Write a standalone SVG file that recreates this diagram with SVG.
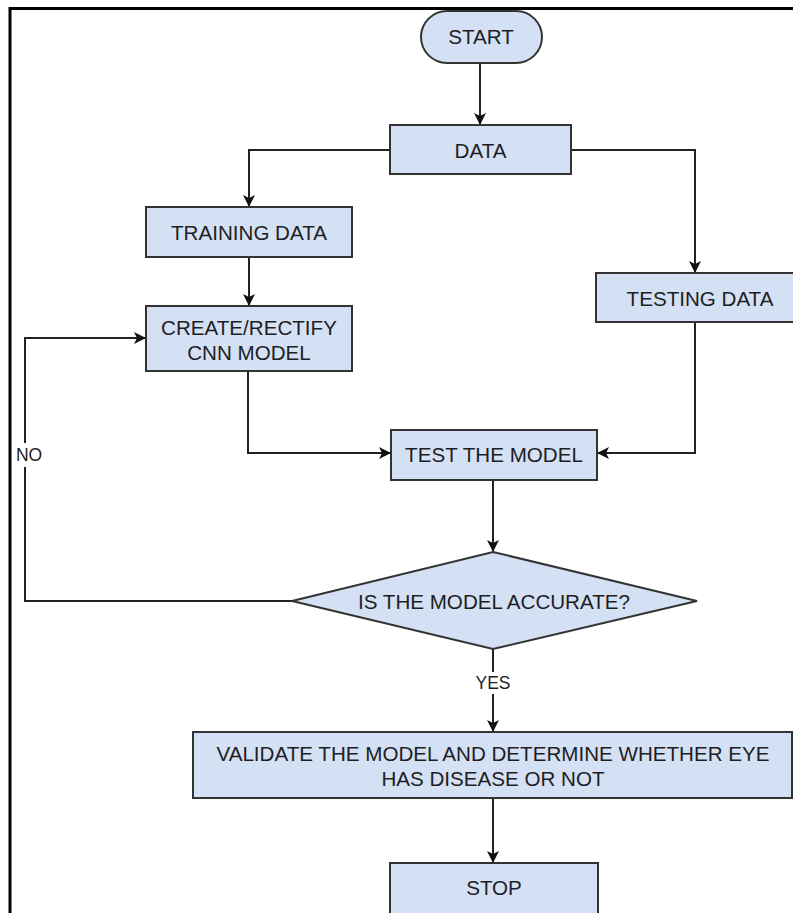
<svg xmlns="http://www.w3.org/2000/svg" width="793" height="913" viewBox="0 0 793 913">
  <style>
    .box { fill: #d4e0f3; stroke: #333; stroke-width: 2; }
    .lbl { font-family: "Liberation Sans", Arial, sans-serif; font-size: 20.6px; fill: #1e1e24; text-anchor: middle; dominant-baseline: central; }
    .edge { fill: none; stroke: #222; stroke-width: 2; }
    .elbl { font-family: "Liberation Sans", Arial, sans-serif; font-size: 17.5px; fill: #1e1e24; text-anchor: middle; dominant-baseline: central; }
  </style>
  <defs>
    <marker id="arr" viewBox="0 0 12 12" refX="11" refY="6" markerWidth="12" markerHeight="12" markerUnits="userSpaceOnUse" orient="auto">
      <path d="M0,0 L12,6 L0,12 L3,6 Z" fill="#111"/>
    </marker>
  </defs>
  <rect x="0" y="0" width="793" height="913" fill="#fff"/>
  <!-- frame -->
  <path d="M10,913 V8.5 H793" fill="none" stroke="#000" stroke-width="3"/>

  <g id="connectors">
    <path class="edge" d="M480,63 V124" marker-end="url(#arr)"/>
    <path class="edge" d="M390,150 H249 V206" marker-end="url(#arr)"/>
    <path class="edge" d="M571,150 H695 V272" marker-end="url(#arr)"/>
    <path class="edge" d="M249,257 V305" marker-end="url(#arr)"/>
    <path class="edge" d="M248,371 V453 H390" marker-end="url(#arr)"/>
    <path class="edge" d="M695,322 V453 H598" marker-end="url(#arr)"/>
    <path class="edge" d="M493,480 V551" marker-end="url(#arr)"/>
    <path class="edge" d="M292,601 H25 V338 H145" marker-end="url(#arr)"/>
    <path class="edge" d="M493,649 V731" marker-end="url(#arr)"/>
    <path class="edge" d="M493,798 V862" marker-end="url(#arr)"/>
    <rect x="13" y="443" width="32" height="24" fill="#fff"/>
    <text class="elbl" x="29" y="455">NO</text>
    <rect x="474" y="672" width="38" height="22" fill="#fff"/>
    <text class="elbl" x="493" y="683">YES</text>
  </g>

  <g id="start">
    <rect class="box" x="421" y="11" width="121" height="52" rx="26" ry="26"/>
    <text class="lbl" x="481" y="36">START</text>
  </g>
  <g id="data">
    <rect class="box" x="390" y="125" width="181" height="49"/>
    <text class="lbl" x="480.5" y="150">DATA</text>
  </g>
  <g id="training">
    <rect class="box" x="146" y="207" width="206" height="50"/>
    <text class="lbl" x="249" y="232">TRAINING DATA</text>
  </g>
  <g id="create">
    <rect class="box" x="146" y="306" width="206" height="65"/>
    <text class="lbl" x="249" y="327">CREATE/RECTIFY</text>
    <text class="lbl" x="249" y="352">CNN MODEL</text>
  </g>
  <g id="testing">
    <rect class="box" x="596" y="273" width="208" height="49"/>
    <text class="lbl" x="700" y="298">TESTING DATA</text>
  </g>
  <g id="test">
    <rect class="box" x="391" y="430" width="206" height="50"/>
    <text class="lbl" x="494" y="454">TEST THE MODEL</text>
  </g>
  <g id="decision">
    <polygon class="box" points="493,552 697,601 493,649 292,601"/>
    <text class="lbl" x="494" y="601">IS THE MODEL ACCURATE?</text>
  </g>
  <g id="validate">
    <rect class="box" x="193" y="732" width="599" height="66"/>
    <text class="lbl" x="493" y="753">VALIDATE THE MODEL AND DETERMINE WHETHER EYE</text>
    <text class="lbl" x="493" y="778">HAS DISEASE OR NOT</text>
  </g>
  <g id="stop">
    <rect class="box" x="390" y="863" width="208" height="60"/>
    <text class="lbl" x="494" y="887">STOP</text>
  </g>
</svg>
